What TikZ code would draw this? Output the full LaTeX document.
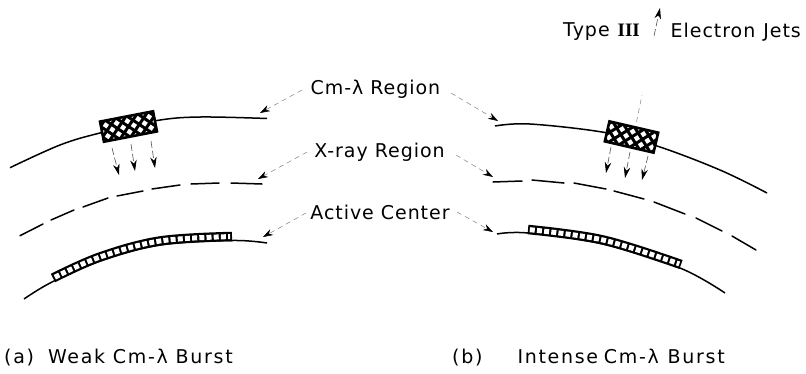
\documentclass[tikz,border=0pt]{standalone}
\usepackage{fontspec}
\usetikzlibrary{arrows.meta}
\newfontfamily\labfont[LetterSpace=5]{DejaVu Sans}
\newfontfamily\capfont[LetterSpace=9]{DejaVu Sans}
\newfontfamily\romfont{Liberation Serif}
\tikzset{
  curveline/.style={line width=1.5pt,black},
  dashseg/.style={line width=1.5pt,black,line cap=round},
  leader/.style={line width=.5pt,black!50,dash pattern=on 5pt off 4pt,-{Stealth[black,length=10pt,width=6.5pt]}},
  faint/.style={line width=.5pt,black!50,dash pattern=on 5pt off 4pt},
  jet/.style={line width=.6pt,black!70,dash pattern=on 7pt off 3pt,-{Stealth[black,length=11pt,width=6.5pt]}},
  lab/.style={inner sep=0pt,font=\labfont\fontsize{19}{22}\selectfont,text=black},
  caplab/.style={inner sep=0pt,font=\capfont\fontsize{19}{22}\selectfont,text=black},
  stripblack/.style={line width=9.5pt,black},
  stripwhite/.style={line width=5pt,white,dash pattern=on 5pt off 2.2pt},
  hatchbox/.style={draw=black,line width=2.6pt,fill=white,inner sep=0pt,
    minimum width=#1,minimum height=20.5pt,
    path picture={
      \foreach \k in {-88,-77,...,88}{
        \draw[black,line width=3pt] ([xshift=\k pt]path picture bounding box.center)++(-40pt,-40pt)--++(80pt,80pt);
        \draw[black,line width=3pt] ([xshift=\k pt]path picture bounding box.center)++(-40pt,40pt)--++(80pt,-80pt);
      }}},
}
\begin{document}
\begin{tikzpicture}[x=1pt,y=-1pt]
\useasboundingbox (0,0) rectangle (806,373);
% left panel
\draw[curveline] plot[smooth,tension=.6] coordinates {(10,167.7) (60,145) (100,133) (157,120.5) (200,117) (267,118.5)};
\node[hatchbox=54pt,rotate=11] (boxa) at (128.5,126.5) {};
\coordinate (a1s) at (112,148); \coordinate (a1e) at (119,175);
\coordinate (a2s) at (131,144); \coordinate (a2e) at (135,171);
\coordinate (a3s) at (151,141); \coordinate (a3e) at (155,168);
\draw[jet] (a1s)--(a1e);
\draw[jet] (a2s)--(a2e);
\draw[jet] (a3s)--(a3e);
\draw[dashseg] (20,235.7)--(43,224) (51,220)--(74,210) (83,207)--(108,198) (117,196)--(143,191) (152,189)--(180,185) (191,184)--(219,183) (231,183)--(262,184);
\draw[curveline] plot[smooth,tension=.6] coordinates {(24,299) (52,282) (100,261) (160,245) (232,240.5) (267,243)};
\draw[stripblack] plot[smooth,tension=.6] coordinates {(53,278) (100,257) (160,241) (232,236.5)};
\draw[stripwhite] plot[smooth,tension=.6] coordinates {(54.8,277.2) (100,257) (160,241) (230.2,236.6)};
% right panel
\draw[curveline] plot[smooth,tension=.6] coordinates {(495,126) (530,124) (605,132.5) (657,146) (720,170) (767,193)};
\node[hatchbox=50pt,rotate=-13] (boxb) at (631.5,137) {};
\coordinate (b1s) at (611,147); \coordinate (b1e) at (606,173);
\coordinate (b2s) at (630,152); \coordinate (b2e) at (625,178);
\coordinate (b3s) at (648,156); \coordinate (b3e) at (642,180);
\draw[jet] (b1s)--(b1e);
\draw[jet] (b2s)--(b2e);
\draw[jet] (b3s)--(b3e);
\draw[dashseg] (493,182)--(522,181) (532,180)--(564,183) (574,183)--(606,189) (614,191)--(644,199) (654,202)--(685,214) (696,218)--(722,231) (732,236)--(756,250);
\draw[curveline] plot[smooth,tension=.6] coordinates {(497,234) (528,233) (603,244) (680,268) (725,293)};
\draw[stripblack] plot[smooth,tension=.6] coordinates {(528,229.5) (603,240) (681,264.5)};
\draw[stripwhite] plot[smooth,tension=.6] coordinates {(529.8,229.7) (603,240) (679.3,263.9)};
% up jet
\coordinate (ju1) at (636.5,122); \coordinate (ju2) at (642,95);
\coordinate (ju3) at (654,36); \coordinate (ju4) at (660,8);
\draw[faint] (ju1)--(ju2);
\draw[jet] (ju3)--(ju4);
% labels
\node[lab] (cm) at (375.5,89) {Cm-λ Region};
\node[lab] (xr) at (379.5,152) {X-ray Region};
\node[lab] (ac) at (380,212) {Active Center};
\node[caplab,anchor=west] (capa) at (4,358) {(a)\hspace{14pt}Weak Cm-λ Burst};
\node[caplab,anchor=west] (capb) at (452,358) {(b)\hspace{35pt}Intense\hspace{-2pt} Cm-λ\hspace{1pt} Burst};
\node[lab,anchor=west] (typ) at (563,32) {Type\hspace{8pt}{\romfont\bfseries III}};
\node[lab,anchor=east] (ej) at (801,32) {Electron\hspace{1pt} Jets};
% leaders
\coordinate (l1) at (302,90); \coordinate (t1) at (260,113);
\coordinate (l2) at (307,152); \coordinate (t2) at (258,179);
\coordinate (l3) at (306,213); \coordinate (t3) at (263,237);
\coordinate (r1) at (451,93); \coordinate (u1) at (498,121);
\coordinate (r2) at (456,155); \coordinate (u2) at (493,177);
\coordinate (r3) at (457,212); \coordinate (u3) at (493,232);
\draw[leader] (l1)--(t1);
\draw[leader] (l2)--(t2);
\draw[leader] (l3)--(t3);
\draw[leader] (r1)--(u1);
\draw[leader] (r2)--(u2);
\draw[leader] (r3)--(u3);
\end{tikzpicture}
\end{document}
